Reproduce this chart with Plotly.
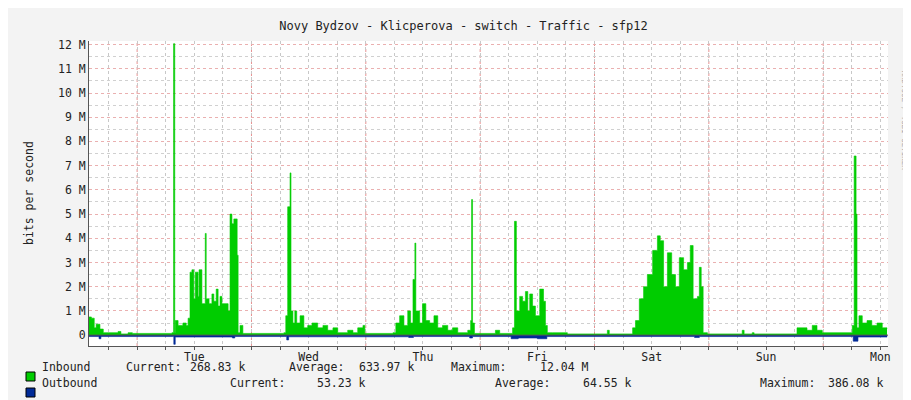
import plotly.graph_objects as go

# hours since Tue 00:00, traffic in Mbit/s
in_hours = [-10.1, -9.6, -9.0, -8.6, -7.8, -7.1, -6.1, -4.0, -3.4, -1.9, -1.0,
            7.3, 7.65, 7.9, 8.0, 8.6, 9.6, 10.3, 10.7, 11.1, 11.5, 11.9, 12.2, 12.8, 13.0, 13.4, 13.6,
            14.3, 14.5, 14.7, 15.1, 15.7, 16.1, 16.6, 17.0, 17.4, 17.8, 19.1, 19.5, 19.9, 20.3, 21.0,
            21.2, 21.6, 22.2,
            30.8, 31.2, 31.6, 32.1, 32.3, 32.7, 33.1, 33.5, 34.2, 35.0, 35.8, 36.7, 37.9, 39.0, 40.0,
            41.1, 42.1, 44.2, 45.3, 46.3, 47.4, 47.8,
            53.7, 54.3, 55.1, 56.0, 56.8, 57.4, 57.9, 58.3, 58.5, 58.7, 59.3, 59.9, 60.6, 61.4, 62.3,
            63.1, 64.1, 65.2, 66.2, 67.3, 69.4, 70.0, 70.2, 70.4, 70.8,
            75.2, 76.1, 78.8, 79.2, 79.6, 80.3, 80.9, 81.5, 82.0, 82.4, 83.0, 83.6, 84.5, 85.3, 85.7,
            86.1, 87.2, 90.3, 98.7, 99.1,
            104.0, 104.6, 105.4, 106.3, 107.1, 108.2, 109.2, 109.8, 110.5, 111.3, 112.2, 113.0, 113.8,
            114.7, 115.5, 116.1, 116.7, 117.6, 118.0, 118.4, 118.8, 119.7,
            127.0, 127.4, 129.1, 129.5, 138.5, 140.6, 141.7, 142.7, 143.8,
            149.0, 150.1, 150.5, 150.9, 151.1, 151.5, 152.2, 153.2, 154.2, 155.3, 156.4, 157.4]
in_mbps = [0.75, 0.7, 0.3, 0.45, 0.25, 0.1, 0.1, 0.15, 0.05, 0.1, 0.07,
           0.1, 12.04, 0.1, 0.6, 0.4, 0.5, 0.4, 0.7, 2.6, 2.7, 1.5, 2.6, 1.6, 2.7, 2.7, 1.3,
           4.2, 1.5, 1.5, 1.3, 1.7, 1.4, 1.9, 1.2, 1.6, 1.3, 1.0, 5.0, 4.6, 4.8, 3.3,
           0.1, 0.4, 0.07,
           0.1, 0.8, 5.3, 6.7, 1.0, 0.5, 1.0, 0.5, 0.8, 0.3, 0.4, 0.5, 0.3, 0.4, 0.2,
           0.3, 0.1, 0.2, 0.1, 0.3, 0.4, 0.07,
           0.1, 0.5, 0.8, 0.4, 1.0, 0.5, 2.3, 3.8, 1.0, 1.0, 0.5, 1.3, 0.6, 0.5, 0.8,
           0.3, 0.4, 0.2, 0.3, 0.1, 0.2, 0.6, 5.6, 0.5, 0.07,
           0.2, 0.07, 0.3, 4.7, 1.0, 1.6, 1.4, 1.8, 1.0, 1.7, 1.2, 0.8, 1.9, 1.4, 0.4,
           0.1, 0.1, 0.05, 0.2, 0.05,
           0.3, 0.6, 1.5, 2.0, 2.5, 3.5, 4.1, 3.9, 2.0, 3.4, 2.5, 2.0, 3.2,
           2.7, 3.0, 3.7, 1.5, 1.6, 2.8, 2.0, 0.1, 0.05,
           0.2, 0.05, 0.1, 0.05, 0.3, 0.2, 0.4, 0.2, 0.1,
           0.1, 0.4, 7.4, 5.0, 0.3, 0.8, 0.5, 0.6, 0.4, 0.5, 0.3, 0.27]

out_hours = [-10.1, -8.0, -7.6, 7.4, 7.7, 8.0, 20.0, 20.5, 31.0, 31.4, 31.8, 57.0, 58.0, 69.8,
             70.4, 78.5, 80.0, 84.0, 86.0, 117.0, 118.0, 150.3, 151.3, 157.4]
out_mbps = [-0.06, -0.15, -0.06, -0.06, -0.38, -0.08, -0.12, -0.06, -0.06, -0.2, -0.07,
            -0.1, -0.06, -0.12, -0.06, -0.15, -0.12, -0.15, -0.06, -0.1, -0.06, -0.25, -0.08, -0.06]

day_labels = ["Tue", "Wed", "Thu", "Fri", "Sat", "Sun", "Mon"]
y_ticks = list(range(13))
y_labels = ["0"] + [f"{v} M" for v in y_ticks[1:]]

legend_rows = [
    ("Inbound", "#00cc00", [("Current:", 116), ("268.83 k", 180), ("Average:", 279),
                             ("633.97 k", 349), ("Maximum:", 441), ("12.04 M", 530)]),
    ("Outbound", "#002a97", [("Current:", 220), ("53.23 k", 307), ("Average:", 485),
                              ("64.55 k", 573), ("Maximum:", 750), ("386.08 k", 818)]),
]

MONO = "DejaVu Sans Mono"
W, H = 911, 400
L, R, T, B = 81, 31, 33, 62

fig = go.Figure()
fig.add_trace(go.Scatter(x=in_hours, y=in_mbps, mode="lines", line=dict(shape="hv", width=0.6, color="#00cc00"),
                         fill="tozeroy", fillcolor="#00cc00"))
fig.add_trace(go.Scatter(x=out_hours, y=out_mbps, mode="lines", line=dict(shape="hv", width=0.6, color="#002a97"),
                         fill="tozeroy", fillcolor="#002a97"))

# red dotted day boundaries
for d in range(7):
    fig.add_shape(type="line", x0=24 * d, x1=24 * d, y0=-0.45, y1=12.15,
                  line=dict(color="#e89090", width=1, dash="dot"), layer="below")
# zero line / x axis
fig.add_shape(type="line", x0=-10.1, x1=158.5, y0=0, y1=0, line=dict(color="#555", width=1))
fig.add_annotation(x=158.8, y=0, text="▶", showarrow=False, font=dict(size=7, color="#a02020"))
fig.add_annotation(x=-10.1, y=12.25, text="▲", showarrow=False, font=dict(size=7, color="#a02020"))

fig.update_xaxes(range=[-10.1, 157.6], tickvals=[12 + 24 * i for i in range(6)] + [156],
                 ticktext=day_labels, showgrid=False, zeroline=False, automargin=False,
                 showline=True, linecolor="#555", ticks="",
                 minor=dict(dtick=6, tick0=0, showgrid=True, gridcolor="#c8c8c8", griddash="dot",
                            ticks="outside", ticklen=3, tickcolor="#555"),
                 tickfont=dict(family=MONO, size=11.5, color="#222"))
fig.update_yaxes(range=[-0.45, 12.15], tickvals=y_ticks, ticktext=y_labels, zeroline=False, automargin=False,
                 showgrid=True, gridcolor="#eab0b0", griddash="dot", showline=True, linecolor="#555",
                 minor=dict(dtick=0.5, showgrid=True, gridcolor="#d0d0d0", griddash="dot"),
                 tickfont=dict(family=MONO, size=11.5, color="#222"))

px = lambda x: (x - L) / (W - L - R)
py = lambda y: (H - B - y) / (H - T - B)
fig.add_annotation(xref="paper", yref="paper", x=px(12), y=py(185), text="bits per second", textangle=-90,
                   showarrow=False, font=dict(family=MONO, size=11.5, color="#222"))
for i, (name, color, cells) in enumerate(legend_rows):
    yy = 368 + 16 * i
    fig.add_shape(type="rect", xref="paper", yref="paper", x0=px(18), x1=px(27), y0=py(yy + 5), y1=py(yy - 4),
                  fillcolor=color, line=dict(color="#000", width=1))
    fig.add_annotation(xref="paper", yref="paper", x=px(32), y=py(yy), text=name, showarrow=False,
                       xanchor="left", font=dict(family=MONO, size=11.5, color="#222"))
    for txt, xp in cells:
        fig.add_annotation(xref="paper", yref="paper", x=px(xp), y=py(yy), text=txt, showarrow=False,
                           xanchor="left", font=dict(family=MONO, size=11.5, color="#222"))

fig.add_annotation(xref="paper", yref="paper", x=px(903), y=py(60), text="RRDTOOL / TOBI OETIKER",
                   textangle=90, showarrow=False, font=dict(family=MONO, size=7.5, color="#aaa"))

fig.update_layout(width=W, height=H, margin=dict(l=L, r=R, t=T, b=B, autoexpand=False), showlegend=False,
                  paper_bgcolor="#f3f3f3", plot_bgcolor="#ffffff",
                  title=dict(text="Novy Bydzov - Klicperova - switch - Traffic - sfp12", x=0.5, y=0.965,
                             xanchor="center", font=dict(family=MONO, size=12, color="#222")))
fig.write_html("out.html")
